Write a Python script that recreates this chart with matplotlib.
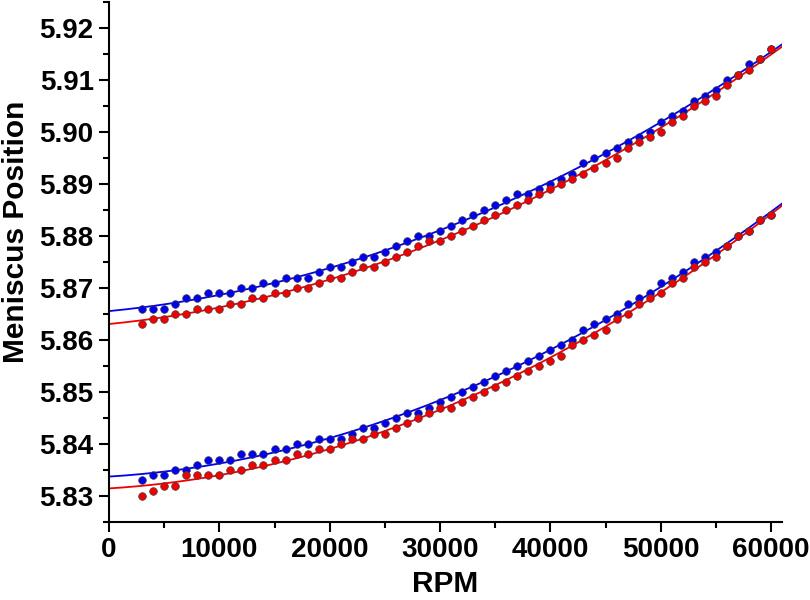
import numpy as np
import matplotlib
matplotlib.use("Agg")
import matplotlib.pyplot as plt
from matplotlib.ticker import MultipleLocator

plt.rcParams['font.family'] = ['Liberation Sans', 'DejaVu Sans']

rpm = list(range(3000, 61000, 1000))

upper_blue = [5.866, 5.866, 5.866, 5.867, 5.868, 5.868, 5.869, 5.869, 5.869, 5.870,
              5.870, 5.871, 5.871, 5.872, 5.872, 5.872, 5.873, 5.874, 5.874, 5.875,
              5.876, 5.876, 5.877, 5.878, 5.879, 5.880, 5.880, 5.881, 5.882, 5.883,
              5.884, 5.885, 5.886, 5.887, 5.888, 5.888, 5.889, 5.890, 5.891, 5.892,
              5.894, 5.895, 5.896, 5.897, 5.898, 5.899, 5.900, 5.902, 5.903, 5.904,
              5.906, 5.907, 5.908, 5.910, 5.911, 5.913, 5.914, 5.916]

upper_red = [5.863, 5.864, 5.864, 5.865, 5.865, 5.866, 5.866, 5.866, 5.867, 5.867,
             5.868, 5.868, 5.869, 5.869, 5.870, 5.870, 5.871, 5.872, 5.872, 5.873,
             5.874, 5.874, 5.875, 5.876, 5.877, 5.878, 5.879, 5.879, 5.880, 5.881,
             5.882, 5.883, 5.884, 5.885, 5.886, 5.887, 5.888, 5.889, 5.890, 5.891,
             5.892, 5.893, 5.894, 5.895, 5.897, 5.898, 5.899, 5.900, 5.902, 5.903,
             5.905, 5.906, 5.907, 5.909, 5.911, 5.912, 5.914, 5.916]

lower_blue = [5.833, 5.834, 5.834, 5.835, 5.835, 5.836, 5.837, 5.837, 5.837, 5.838,
              5.838, 5.838, 5.839, 5.839, 5.840, 5.840, 5.841, 5.841, 5.841, 5.842,
              5.843, 5.843, 5.844, 5.845, 5.846, 5.846, 5.847, 5.848, 5.849, 5.850,
              5.851, 5.852, 5.853, 5.854, 5.855, 5.856, 5.857, 5.858, 5.859, 5.860,
              5.862, 5.863, 5.864, 5.865, 5.867, 5.868, 5.869, 5.871, 5.872, 5.873,
              5.875, 5.876, 5.877, 5.878, 5.880, 5.881, 5.883, 5.884]

lower_red = [5.830, 5.831, 5.832, 5.832, 5.834, 5.834, 5.834, 5.834, 5.835, 5.835,
             5.836, 5.836, 5.837, 5.837, 5.838, 5.838, 5.839, 5.839, 5.840, 5.841,
             5.841, 5.842, 5.842, 5.843, 5.844, 5.845, 5.846, 5.847, 5.847, 5.848,
             5.849, 5.850, 5.851, 5.852, 5.853, 5.854, 5.855, 5.856, 5.857, 5.859,
             5.860, 5.861, 5.862, 5.864, 5.865, 5.867, 5.868, 5.869, 5.871, 5.872,
             5.874, 5.875, 5.876, 5.878, 5.880, 5.881, 5.883, 5.884]

BLUE = '#0000F0'
RED = '#F00000'

fig = plt.figure(figsize=(8.1, 6.0), dpi=100)
ax = fig.add_axes([0.1346, 0.13, 0.8309, 0.8667])

xfit = np.linspace(0, 61000, 300)
x = np.array(rpm, dtype=float)
for ys, col in [(upper_blue, BLUE), (upper_red, RED), (lower_blue, BLUE), (lower_red, RED)]:
    coef = np.polyfit(x, np.array(ys), 2)
    ax.plot(xfit, np.polyval(coef, xfit), color=col, lw=1.3, zorder=2)

for ys, col in [(upper_blue, BLUE), (lower_blue, BLUE), (upper_red, RED), (lower_red, RED)]:
    ax.plot(rpm, ys, 'o', color=col, ms=5.5, mec='#404040', mew=0.5, zorder=3)

ax.set_xlim(0, 61000)
ax.set_ylim(5.825, 5.925)
ax.xaxis.set_major_locator(MultipleLocator(10000))
ax.xaxis.set_minor_locator(MultipleLocator(5000))
ax.yaxis.set_major_locator(MultipleLocator(0.01))
ax.yaxis.set_minor_locator(MultipleLocator(0.005))
ax.yaxis.set_major_formatter(matplotlib.ticker.FormatStrFormatter('%.2f'))

for s in ['top', 'right']:
    ax.spines[s].set_visible(False)
for s in ['left', 'bottom']:
    ax.spines[s].set_linewidth(1.5)

ax.tick_params(which='major', direction='out', length=7, width=1.5, labelsize=20, pad=4)
ax.tick_params(which='minor', direction='out', length=4.5, width=1.5)
for lab in ax.get_xticklabels() + ax.get_yticklabels():
    lab.set_fontweight('bold')

ax.set_xlabel('RPM', fontsize=21.5, fontweight='bold', labelpad=5)
ax.set_ylabel('Meniscus Position', fontsize=21.5, fontweight='bold')
ax.yaxis.set_label_coords(-0.118, 0.558)

fig.savefig('out.png', dpi=100)
